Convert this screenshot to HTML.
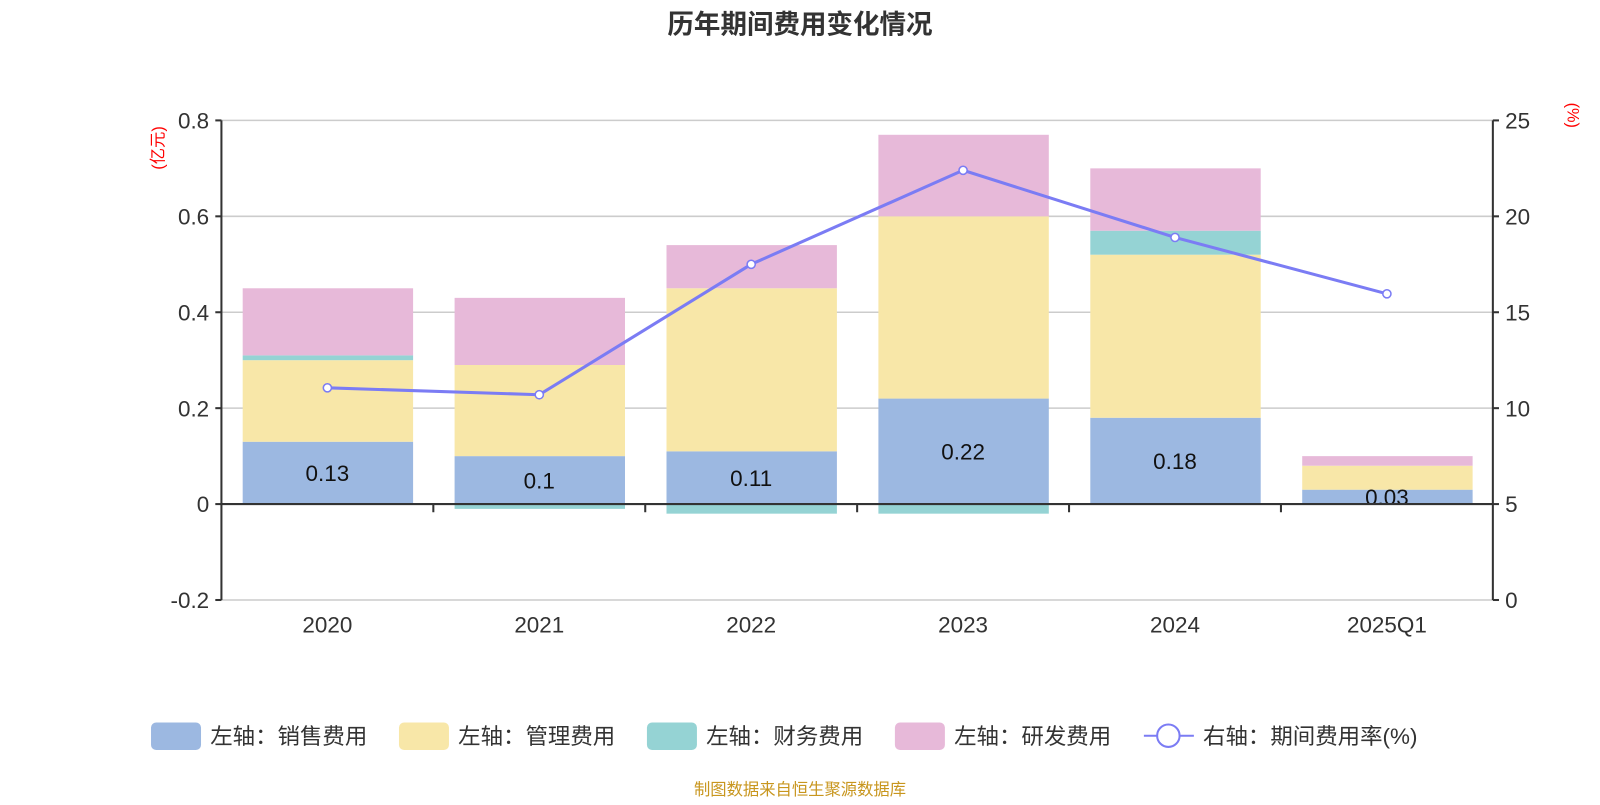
<!DOCTYPE html>
<html><head><meta charset="utf-8"><style>
body{margin:0;background:#fff;font-family:"Liberation Sans","Noto Sans CJK SC",sans-serif;}
svg text{font-family:"Liberation Sans","Noto Sans CJK SC",sans-serif;}
</style></head><body>
<svg id="c" width="1600" height="800" viewBox="0 0 1568 784" xmlns="http://www.w3.org/2000/svg">
<text x="784" y="33" text-anchor="middle" font-size="26" font-weight="bold" fill="#333">历年期间费用变化情况</text>
<text transform="translate(160,145) rotate(-90)" text-anchor="middle" font-size="16" fill="#f00">(亿元)</text>
<text transform="translate(1536,113) rotate(90)" text-anchor="middle" font-size="16" fill="#f00">(%)</text>
<g id="plot"></g>
<g id="legend" font-size="22" fill="#333"></g>
<text x="784" y="779" text-anchor="middle" font-size="16" fill="#c8961e">制图数据来自恒生聚源数据库</text>
</svg>
<script>
const categories=["2020","2021","2022","2023","2024","2025Q1"];
const sales=[0.13,0.10,0.11,0.22,0.18,0.03];
const mgmt=[0.17,0.19,0.34,0.38,0.34,0.05];
const fin=[0.01,-0.01,-0.02,-0.02,0.05,0];
const rd=[0.14,0.14,0.09,0.17,0.13,0.02];
const rate=[11.06,10.7,17.5,22.4,18.9,15.96];
const leftTicks=[-0.2,0,0.2,0.4,0.6,0.8];
const rightTicks=[0,5,10,15,20,25];
const NS="http://www.w3.org/2000/svg";
const X0=217,X1=1463,YT=118,YB=588;
const yL=v=>YB-(v+0.2)/1.0*(YB-YT);
const yR=v=>YB-v/25*(YB-YT);
const bw=(X1-X0)/categories.length;
const xC=i=>X0+bw*(i+0.5);
const g=document.getElementById('plot');
function mk(t,a,p){const e=document.createElementNS(NS,t);for(const k in a)e.setAttribute(k,a[k]);(p||g).appendChild(e);return e;}
leftTicks.forEach(v=>{
 const l=mk('line',{x1:X0,x2:X1,y1:yL(v),y2:yL(v),stroke:'#ccc','stroke-width':1.5});
 
 mk('line',{x1:X0-6,x2:X0,y1:yL(v),y2:yL(v),stroke:'#333','stroke-width':2});
 const t=mk('text',{x:X0-12,y:yL(v)+8,'text-anchor':'end','font-size':22,fill:'#333'});t.textContent=v===0?'0':v;
 
});
rightTicks.forEach(v=>{
 mk('line',{x1:X1,x2:X1+6,y1:yR(v),y2:yR(v),stroke:'#333','stroke-width':2});
 const t=mk('text',{x:X1+12,y:yR(v)+8,'font-size':22,fill:'#333'});t.textContent=v;
 
});
const colors=['#9cb8e1','#f8e7a8','#95d3d4','#e7b9d9'];
const series=[sales,mgmt,fin,rd];const names=['sales','mgmt','fin','rd'];
categories.forEach((c,i)=>{
 let pos=0,neg=0;const x=xC(i)-83;
 series.forEach((s,k)=>{
  const v=s[i];if(!v)return;let y0,y1;
  if(v>0){y0=pos;y1=pos+v;pos=y1;}else{y0=neg;y1=neg+v;neg=y1;}
  const r=mk('rect',{x:x,width:167,y:Math.min(yL(y0),yL(y1)),height:Math.abs(yL(y1)-yL(y0)),fill:colors[k]});
  
 });
 const t=mk('text',{x:xC(i),y:(yL(0)+yL(sales[i]))/2+8,'text-anchor':'middle','font-size':22,fill:'#111'});t.textContent=sales[i];
 
 const xl=mk('text',{x:xC(i),y:620,'text-anchor':'middle','font-size':22,fill:'#333'});xl.textContent=c;
 
 if(i>0)mk('line',{x1:X0+bw*i,x2:X0+bw*i,y1:yL(0),y2:yL(0)+8,stroke:'#333','stroke-width':2});
});
mk('line',{x1:X0,x2:X1,y1:yL(0),y2:yL(0),stroke:'#333','stroke-width':2});
mk('line',{x1:X0,x2:X0,y1:YT,y2:YB,stroke:'#333','stroke-width':2});
mk('line',{x1:X1,x2:X1,y1:YT,y2:YB,stroke:'#333','stroke-width':2});
const pl=mk('polyline',{points:rate.map((v,i)=>xC(i)+','+yR(v)).join(' '),fill:'none',stroke:'#7b7cf4','stroke-width':3});

rate.forEach((v,i)=>{const p=mk('circle',{cx:xC(i),cy:yR(v),r:4,fill:'#fff',stroke:'#7b7cf4','stroke-width':1.5});
 });
const lg=document.getElementById('legend');
const items=[['左轴：销售费用',148],['左轴：管理费用',391],['左轴：财务费用',634],['左轴：研发费用',877]];
items.forEach((it,k)=>{
 const r=mk('rect',{x:it[1],y:708,width:49,height:27,rx:5,fill:colors[k]},lg);
 
 const t=mk('text',{x:it[1]+58,y:729},lg);t.textContent=it[0];
 
});
mk('line',{x1:1121,x2:1170,y1:721,y2:721,stroke:'#7b7cf4','stroke-width':2},lg);
mk('circle',{cx:1145,cy:721,r:11,fill:'#fff',stroke:'#7b7cf4','stroke-width':2},lg);
const t5=mk('text',{x:1179,y:729},lg);t5.textContent='右轴：期间费用率(%)';

</script>
</body></html>
